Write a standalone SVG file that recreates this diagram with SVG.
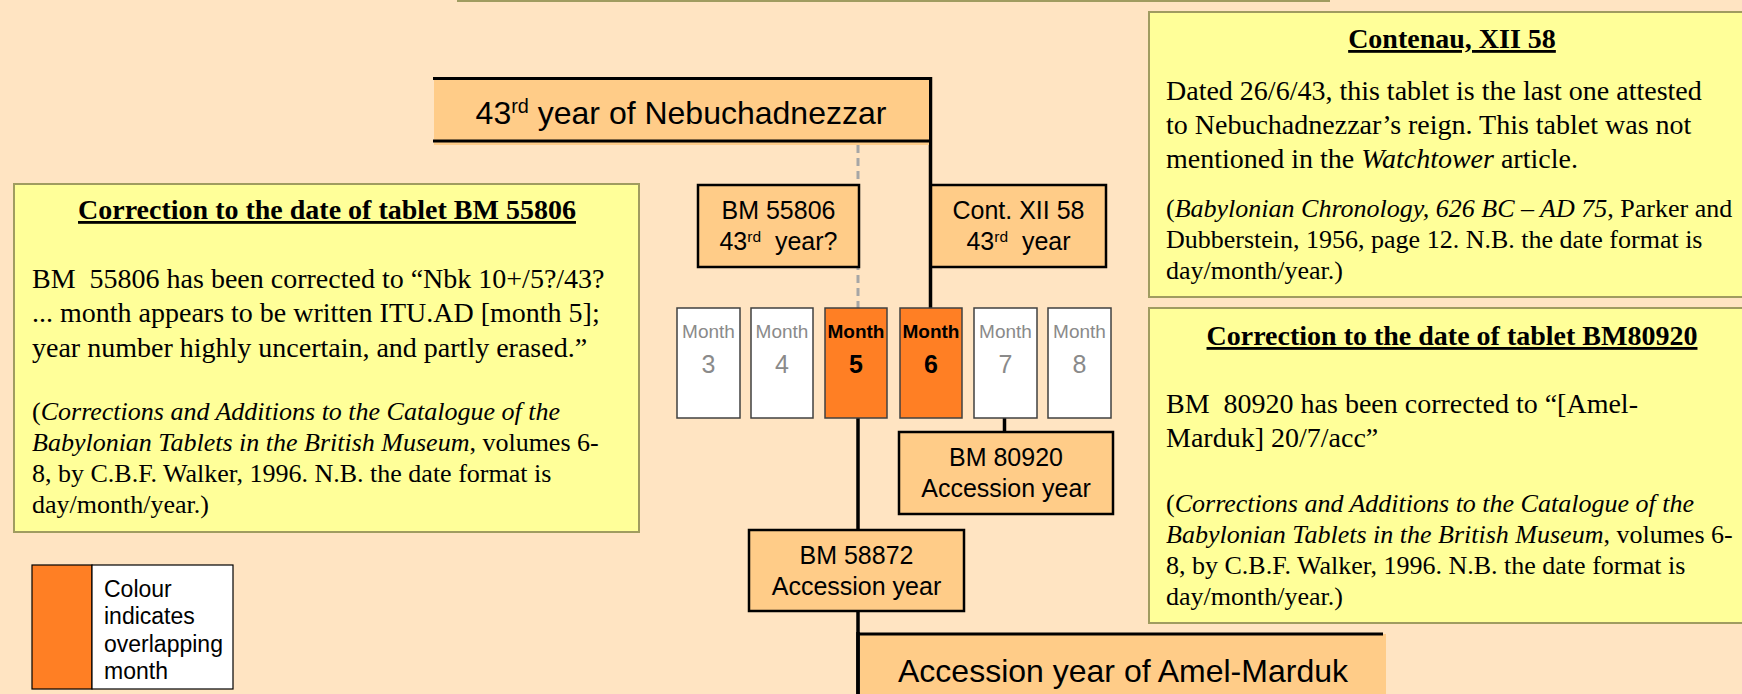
<svg xmlns="http://www.w3.org/2000/svg" width="1742" height="694" viewBox="0 0 1742 694">
<style>
.bg{fill:#FFE4C2}
.note{fill:#FFFF99;stroke:#A09C60;stroke-width:2}
.node{fill:#FFCC88;stroke:#000;stroke-width:2.5}
.mon{fill:#FFFFFF;stroke:#404040;stroke-width:1.5}
.monh{fill:#FF7F24;stroke:#404040;stroke-width:1.5}
.sans{font-family:"Liberation Sans",Arial,sans-serif;fill:#000}
.serif{font-family:"Liberation Serif","Times New Roman",serif;fill:#000}
.ttl{font-size:28px;font-weight:bold;text-decoration:underline;text-anchor:middle}
.body{font-size:28px}
.cite{font-size:26px}
.big{font-size:32px;text-anchor:middle}
.mid{font-size:25px;text-anchor:middle}
.mw{font-size:19px;text-anchor:middle;fill:#8A8A8A}
.mn{font-size:25px;text-anchor:middle;fill:#8A8A8A}
.mwb{font-size:19px;text-anchor:middle;font-weight:bold;fill:#000}
.mnb{font-size:25px;text-anchor:middle;font-weight:bold;fill:#000}
.sup{font-size:0.62em}
.line{stroke:#000;stroke-width:3.5;fill:none}
.dash{stroke:#A6A6A6;stroke-width:3;stroke-dasharray:8 5;fill:none}
</style>
<rect class="bg" x="0" y="0" width="1742" height="694"/>

<g id="top-note">
<rect class="note" x="458" y="-40" width="871" height="41"/>
</g>

<g id="connectors">
<line class="dash" x1="858" y1="145" x2="858" y2="308"/>
<line class="line" x1="930.5" y1="77" x2="930.5" y2="308"/>
<line class="line" x1="858" y1="418" x2="858" y2="694"/>
<line class="line" x1="1004.5" y1="418" x2="1004.5" y2="432"/>
</g>

<g id="nebuchadnezzar-43">
<rect x="434" y="78" width="495" height="67" fill="#FFCC88"/>
<line class="line" x1="433" y1="78.5" x2="931" y2="78.5" style="stroke-width:3"/>
<line class="line" x1="433" y1="141" x2="929" y2="141" style="stroke-width:3"/>
<text class="sans big" x="681" y="124">43<tspan class="sup" dy="-11">rd</tspan><tspan dy="11"> year of Nebuchadnezzar</tspan></text>
</g>

<g id="bm55806">
<rect class="node" x="698" y="185" width="161" height="82"/>
<text class="sans mid" x="778.5" y="219">BM 55806</text>
<text class="sans mid" x="778.5" y="250" xml:space="preserve">43<tspan class="sup" dy="-8">rd</tspan><tspan dy="8">  year?</tspan></text>
</g>

<g id="cont-xii-58">
<rect class="node" x="931" y="185" width="175" height="82"/>
<text class="sans mid" x="1018.5" y="219">Cont. XII 58</text>
<text class="sans mid" x="1018.5" y="250" xml:space="preserve">43<tspan class="sup" dy="-8">rd</tspan><tspan dy="8">  year</tspan></text>
</g>

<g id="month-3">
<rect class="mon" x="677" y="308" width="63" height="110"/>
<text class="sans mw" x="708.5" y="338">Month</text>
<text class="sans mn" x="708.5" y="373">3</text>
</g>
<g id="month-4">
<rect class="mon" x="751" y="308" width="62" height="110"/>
<text class="sans mw" x="782" y="338">Month</text>
<text class="sans mn" x="782" y="373">4</text>
</g>
<g id="month-5">
<rect class="monh" x="825" y="308" width="62" height="110"/>
<text class="sans mwb" x="856" y="338">Month</text>
<text class="sans mnb" x="856" y="373">5</text>
</g>
<g id="month-6">
<rect class="monh" x="900" y="308" width="62" height="110"/>
<text class="sans mwb" x="931" y="338">Month</text>
<text class="sans mnb" x="931" y="373">6</text>
</g>
<g id="month-7">
<rect class="mon" x="974" y="308" width="63" height="110"/>
<text class="sans mw" x="1005.5" y="338">Month</text>
<text class="sans mn" x="1005.5" y="373">7</text>
</g>
<g id="month-8">
<rect class="mon" x="1048" y="308" width="63" height="110"/>
<text class="sans mw" x="1079.5" y="338">Month</text>
<text class="sans mn" x="1079.5" y="373">8</text>
</g>

<g id="bm80920">
<rect class="node" x="899" y="432" width="214" height="82"/>
<text class="sans mid" x="1006" y="466">BM 80920</text>
<text class="sans mid" x="1006" y="497">Accession year</text>
</g>

<g id="bm58872">
<rect class="node" x="749" y="530" width="215" height="81"/>
<text class="sans mid" x="856.5" y="564">BM 58872</text>
<text class="sans mid" x="856.5" y="595">Accession year</text>
</g>

<g id="amel-marduk">
<rect x="860" y="634" width="526" height="62" fill="#FFCC88"/>
<line class="line" x1="857" y1="634" x2="1383" y2="634" style="stroke-width:3"/>
<line class="line" x1="858" y1="632" x2="858" y2="694"/>
<text class="sans big" x="1123" y="682">Accession year of Amel-Marduk</text>
</g>

<g id="note-bm55806">
<rect class="note" x="14" y="184" width="625" height="348"/>
<text class="serif ttl" x="327" y="219">Correction to the date of tablet BM 55806</text>
<text class="serif body" x="32" y="288" xml:space="preserve">BM  55806 has been corrected to “Nbk 10+/5?/43?</text>
<text class="serif body" x="32" y="322">... month appears to be written ITU.AD [month 5];</text>
<text class="serif body" x="32" y="357">year number highly uncertain, and partly erased.”</text>
<text class="serif cite" x="32" y="420">(<tspan font-style="italic">Corrections and Additions to the Catalogue of the</tspan></text>
<text class="serif cite" x="32" y="451"><tspan font-style="italic">Babylonian Tablets in the British Museum</tspan>, volumes 6-</text>
<text class="serif cite" x="32" y="482">8, by C.B.F. Walker, 1996. N.B. the date format is</text>
<text class="serif cite" x="32" y="513">day/month/year.)</text>
</g>

<g id="note-contenau">
<rect class="note" x="1149" y="12" width="620" height="285"/>
<text class="serif ttl" x="1452" y="48">Contenau, XII 58</text>
<text class="serif body" x="1166" y="100">Dated 26/6/43, this tablet is the last one attested</text>
<text class="serif body" x="1166" y="134">to Nebuchadnezzar’s reign. This tablet was not</text>
<text class="serif body" x="1166" y="168">mentioned in the <tspan font-style="italic">Watchtower</tspan> article.</text>
<text class="serif cite" x="1166" y="217">(<tspan font-style="italic">Babylonian Chronology, 626 BC – AD 75</tspan>, Parker and</text>
<text class="serif cite" x="1166" y="248">Dubberstein, 1956, page 12. N.B. the date format is</text>
<text class="serif cite" x="1166" y="279">day/month/year.)</text>
</g>

<g id="note-bm80920">
<rect class="note" x="1149" y="308" width="620" height="315"/>
<text class="serif ttl" x="1452" y="345">Correction to the date of tablet BM80920</text>
<text class="serif body" x="1166" y="413" xml:space="preserve">BM  80920 has been corrected to “[Amel-</text>
<text class="serif body" x="1166" y="447">Marduk] 20/7/acc”</text>
<text class="serif cite" x="1166" y="512">(<tspan font-style="italic">Corrections and Additions to the Catalogue of the</tspan></text>
<text class="serif cite" x="1166" y="543"><tspan font-style="italic">Babylonian Tablets in the British Museum</tspan>, volumes 6-</text>
<text class="serif cite" x="1166" y="574">8, by C.B.F. Walker, 1996. N.B. the date format is</text>
<text class="serif cite" x="1166" y="605">day/month/year.)</text>
</g>

<g id="legend">
<rect x="32" y="565" width="60" height="124" fill="#FF7F24" stroke="#000" stroke-width="1.2"/>
<rect x="92" y="565" width="141" height="124" fill="#FFFFFF" stroke="#000" stroke-width="1.2"/>
<text class="sans" x="104" y="597" font-size="23">Colour</text>
<text class="sans" x="104" y="624" font-size="23">indicates</text>
<text class="sans" x="104" y="652" font-size="23">overlapping</text>
<text class="sans" x="104" y="679" font-size="23">month</text>
</g>
</svg>
